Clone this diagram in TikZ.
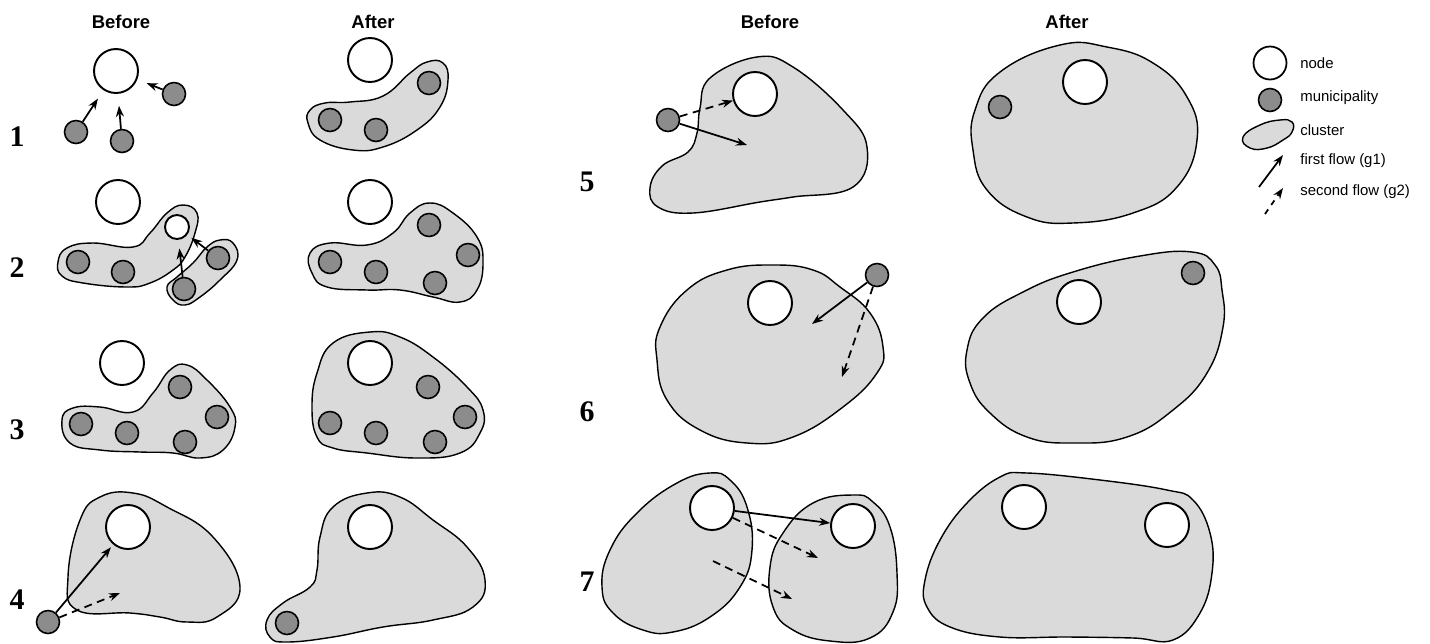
\documentclass[tikz,border=0pt]{standalone}
\usepackage{fontspec}
\setmainfont{Liberation Serif}
\newfontfamily\hfont{Liberation Sans}
\usetikzlibrary{arrows.meta}
\definecolor{clgray}{RGB}{218,218,218}
\definecolor{mugray}{RGB}{140,140,140}
\begin{document}
\begin{tikzpicture}[x=0.02cm,y=-0.02cm,
  nd/.style={circle,draw,fill=white,line width=1.1pt,minimum size=0.88cm,inner sep=0pt},
  snd/.style={circle,draw,fill=white,line width=1.1pt,minimum size=0.48cm,inner sep=0pt},
  mu/.style={circle,draw,fill=mugray,line width=0.9pt,minimum size=0.46cm,inner sep=0pt},
  cl/.style={fill=clgray,draw,line width=0.8pt},
  g1/.style={-{Stealth[length=2.2mm,width=1.6mm]},line width=1pt},
  g2/.style={g1,dash pattern=on 1.6mm off 1.1mm},
  hd/.style={font=\hfont\bfseries\fontsize{10.5}{12}\selectfont},
  num/.style={font=\bfseries\fontsize{17}{18}\selectfont},
  lg/.style={font=\hfont\fontsize{8.5}{10}\selectfont,anchor=west,inner sep=0pt}]
\useasboundingbox (0,0) rectangle (1430,643);

% headers
\node[hd] (hb1) at (121,22) {Before};
\node[hd] (ha1) at (373,22) {After};
\node[hd] (hb2) at (770,22) {Before};
\node[hd] (ha2) at (1067,22) {After};

% row numbers
\node[num] (l1) at (17,137) {1};
\node[num] (l2) at (17,268) {2};
\node[num] (l3) at (17,430) {3};
\node[num] (l4) at (17,600) {4};
\node[num] (l5) at (587,182) {5};
\node[num] (l6) at (587,412) {6};
\node[num] (l7) at (587,582) {7};

% ---------- 1 before
\node[nd] (n1) at (116,71) {};
\node[mu] (m1a) at (76,132) {};
\node[mu] (m1b) at (122,141) {};
\node[mu] (m1c) at (174,94) {};
\draw[g1,shorten >=0.2cm] (m1a) -- (n1);
\draw[g1,shorten >=0.24cm] (m1b) -- (n1);
\draw[g1,shorten >=0.2cm] (m1c) -- (n1);

% ---------- 1 after
\draw[cl] plot[smooth cycle,tension=0.75] coordinates {(310,110) (325,103) (350,102) (383,96) (410,73) (427,62) (443,63) (448,80) (440,107) (417,130) (383,147) (353,150) (320,140) (308,123)};
\node[nd] (n1x) at (370,60) {};
\node[mu] (m1xa) at (330,120) {};
\node[mu] (m1xb) at (376,130) {};
\node[mu] (m1xc) at (429,83) {};

% ---------- 2 before
\draw[cl] plot[smooth cycle,tension=0.75] coordinates {(58,262) (67,248) (93,243) (133,247) (150,233) (167,213) (183,205) (197,213) (195,233) (185,257) (173,270) (150,283) (127,287) (83,283) (62,276)};
\draw[cl] plot[smooth cycle,tension=0.75] coordinates {(167,287) (173,300) (185,305) (200,297) (220,280) (237,260) (233,243) (220,240) (207,247) (193,263) (177,277)};
\node[nd] (n2) at (118,202) {};
\node[snd] (s2) at (177,227) {};
\node[mu] (m2a) at (78,262) {};
\node[mu] (m2b) at (123,272) {};
\node[mu] (m2c) at (184,289) {};
\node[mu] (m2d) at (218,258) {};
\draw[g1,shorten >=0.17cm] (m2c) -- (s2);
\draw[g1,shorten >=0.1cm] (m2d) -- (s2);

% ---------- 2 after
\draw[cl] plot[smooth cycle,tension=0.75] coordinates {(310,253) (330,243) (367,245) (393,233) (410,213) (430,203) (453,213) (477,237) (483,263) (477,290) (460,302) (433,297) (400,290) (367,290) (327,287) (312,273)};
\node[nd] (n2x) at (370,202) {};
\node[mu] (m2xa) at (330,262) {};
\node[mu] (m2xb) at (376,272) {};
\node[mu] (m2xc) at (429,225) {};
\node[mu] (m2xd) at (468,255) {};
\node[mu] (m2xe) at (435,283) {};

% ---------- 3 before
\draw[cl] plot[smooth cycle,tension=0.75] coordinates {(62,420) (73,408) (100,407) (133,412) (153,393) (170,370) (187,365) (207,380) (230,407) (235,427) (223,450) (200,458) (173,453) (140,452) (100,450) (70,443)};
\node[nd] (n3) at (122,363) {};
\node[mu] (m3a) at (81,424) {};
\node[mu] (m3b) at (127,433) {};
\node[mu] (m3c) at (185,442) {};
\node[mu] (m3d) at (217,417) {};
\node[mu] (m3e) at (180,387) {};

% ---------- 3 after
\draw[cl] plot[smooth cycle,tension=0.75] coordinates {(370,332) (333,343) (317,373) (312,407) (317,437) (333,448) (367,453) (417,458) (460,453) (480,433) (483,410) (467,387) (433,357) (400,337)};
\node[nd] (n3x) at (370,363) {};
\node[mu] (m3xa) at (330,423) {};
\node[mu] (m3xb) at (376,433) {};
\node[mu] (m3xc) at (435,442) {};
\node[mu] (m3xd) at (465,417) {};
\node[mu] (m3xe) at (428,387) {};

% ---------- 4 before
\draw[cl] plot[smooth cycle,tension=0.75] coordinates {(77,610) (130,613) (160,617) (187,622) (217,617) (240,587) (213,537) (167,507) (133,493) (100,497) (80,520) (68,577)};
\node[nd] (n4) at (128,527) {};
\node[mu] (m4) at (48,622) {};
\coordinate (c4) at (120,593);
\draw[g1,shorten >=2pt] (m4) -- (n4);
\draw[g2] (m4) -- (c4);

% ---------- 4 after
\draw[cl] plot[smooth cycle,tension=0.75] coordinates {(367,493) (333,507) (320,537) (317,570) (310,587) (283,603) (267,620) (270,637) (287,642) (333,637) (383,627) (433,620) (473,607) (485,580) (467,547) (433,520) (400,497)};
\node[nd] (n4x) at (370,527) {};
\node[mu] (m4x) at (287,623) {};

% ---------- 5 before
\draw[cl] plot[smooth cycle,tension=0.7] coordinates {(757,57) (793,67) (843,110) (867,147) (853,187) (793,197) (760,202) (693,213) (658,207) (650,188) (662,166) (688,152) (697,133) (700,108) (710,78)};
\node[nd] (n5) at (755,94) {};
\node[mu] (m5) at (668,120) {};
\coordinate (c5) at (747,145);
\draw[g2] (m5) -- (n5);
\draw[g1] (m5) -- (c5);

% ---------- 5 after
\draw[cl] plot[smooth cycle,tension=0.75] coordinates {(1060,45) (1000,72) (975,110) (973,150) (987,190) (1027,217) (1073,223) (1133,213) (1177,187) (1197,140) (1187,97) (1153,63) (1107,47)};
\node[nd] (n5x) at (1085,82) {};
\node[mu] (m5x) at (1000,107) {};

% ---------- 6 before
\draw[cl] plot[smooth cycle,tension=0.75] coordinates {(773,265) (727,270) (687,290) (660,327) (657,360) (667,400) (700,430) (747,443) (793,437) (843,407) (877,373) (883,347) (870,313) (840,287) (813,270)};
\node[nd] (n6) at (770,303) {};
\node[mu] (m6) at (877,275) {};
\coordinate (c6a) at (812,324);
\coordinate (c6b) at (842,377);
\draw[g1] (m6) -- (c6a);
\draw[g2] (m6) -- (c6b);

% ---------- 6 after
\draw[cl] plot[smooth cycle,tension=0.75] coordinates {(1192,252) (1140,256) (1073,272) (1023,292) (983,318) (967,350) (970,383) (990,413) (1027,437) (1073,443) (1127,437) (1173,410) (1207,373) (1223,327) (1222,290) (1215,265)};
\node[nd] (n6x) at (1079,302) {};
\node[mu] (m6x) at (1193,273) {};

% ---------- 7 before
\draw[cl] plot[smooth cycle,tension=0.75] coordinates {(710,473) (677,483) (637,513) (610,550) (602,587) (613,613) (643,630) (673,632) (710,617) (740,587) (752,550) (747,507) (730,480)};
\draw[cl] plot[smooth cycle,tension=0.75] coordinates {(853,495) (813,503) (783,533) (770,567) (773,607) (793,630) (830,641) (870,638) (893,612) (897,573) (890,527) (873,502)};
\node[nd] (n7a) at (712,508) {};
\node[nd] (n7b) at (853,526) {};
\coordinate (c7a) at (818,558);
\coordinate (c7s) at (713,561);
\coordinate (c7b) at (792,599);
\draw[g1] (n7a) -- (n7b);
\draw[g2] (n7a) -- (c7a);
\draw[g2] (c7s) -- (c7b);

% ---------- 7 after
\draw[cl] plot[smooth cycle,tension=0.7] coordinates {(1027,473) (1000,477) (967,503) (940,540) (925,580) (927,607) (950,627) (1000,637) (1067,637) (1133,638) (1173,640) (1200,613) (1212,573) (1210,533) (1193,500) (1167,490) (1100,480)};
\node[nd] (n7x) at (1024,507) {};
\node[nd] (n7y) at (1167,525) {};

% ---------- legend
\node[circle,draw,fill=white,line width=1pt,minimum size=0.66cm,inner sep=0pt] (lgn) at (1270,63) {};
\node[lg] (tn) at (1300,63) {node};
\node[mu] (lgm) at (1270,100) {};
\node[lg] (tm) at (1300,98) {municipality};
\draw[cl] plot[smooth cycle,tension=0.8] coordinates {(1243,137) (1260,125) (1280,120) (1292,122) (1292,132) (1283,140) (1267,148) (1250,148)};
\node[lg] (tc) at (1300,130) {cluster};
\coordinate (lf1a) at (1259,187);
\coordinate (lf1b) at (1283,155);
\draw[g1] (lf1a) -- (lf1b);
\node[lg] (tf1) at (1300,161) {first flow (g1)};
\coordinate (lf2a) at (1265,214);
\coordinate (lf2b) at (1283,188);
\draw[g2,dash pattern=on 1.1mm off 1.1mm] (lf2a) -- (lf2b);
\node[lg] (tf2) at (1300,192) {second flow (g2)};
\end{tikzpicture}
\end{document}
